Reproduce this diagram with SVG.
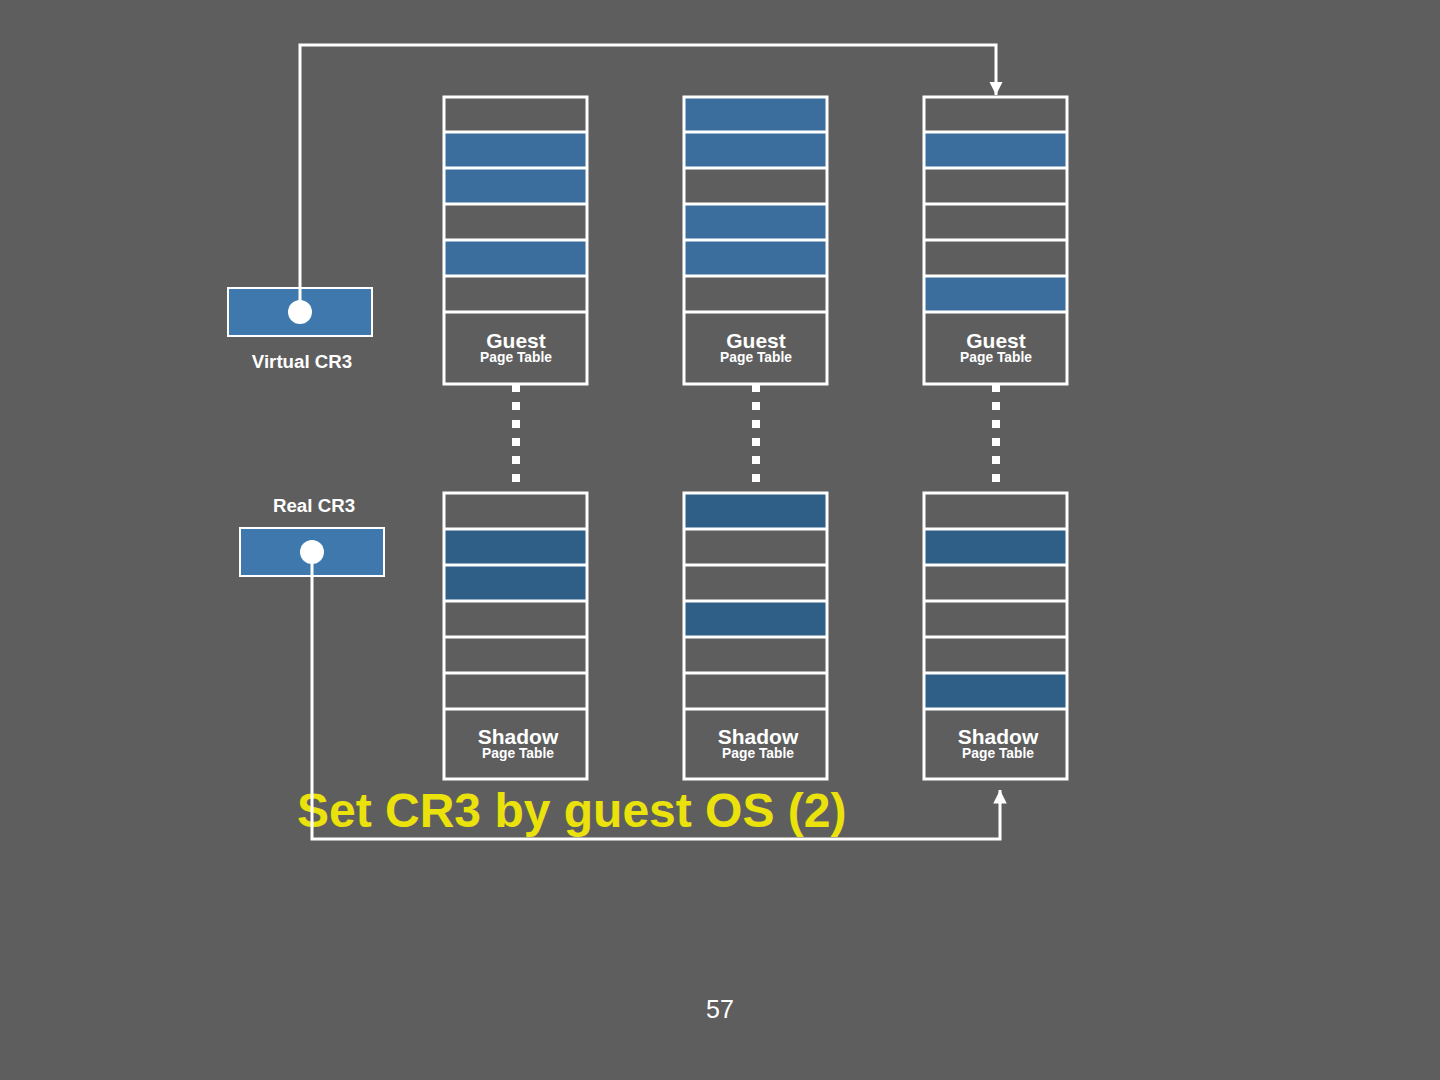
<svg xmlns="http://www.w3.org/2000/svg" width="1440" height="1080" viewBox="0 0 1440 1080">
<defs>
<style>
.bg{fill:#5e5e5e}
.frame{fill:none;stroke:#ffffff;stroke-width:3}
.sep{stroke:#ffffff;stroke-width:3}
.g{fill:#3b6e9d}
.s{fill:#2f5f86}
.cr{fill:#3e78ad;stroke:#ffffff;stroke-width:2}
.dot{fill:#ffffff}
.conn{fill:none;stroke:#ffffff;stroke-width:3}
.dash{fill:none;stroke:#ffffff;stroke-width:8;stroke-dasharray:8 10}
.t1{font-family:"Liberation Sans",Arial,sans-serif;font-weight:bold;font-size:21px;fill:#ffffff;text-anchor:middle}
.t2{font-family:"Liberation Sans",Arial,sans-serif;font-weight:bold;font-size:13.8px;fill:#ffffff;text-anchor:middle}
.lbl{font-family:"Liberation Sans",Arial,sans-serif;font-weight:bold;font-size:18.7px;fill:#ffffff;text-anchor:middle}
.title{font-family:"Liberation Sans",Arial,sans-serif;font-weight:bold;font-size:48px;fill:#ebe20c}
.pg{font-family:"Liberation Sans",Arial,sans-serif;font-size:25px;fill:#ffffff;text-anchor:middle}
</style>
<marker id="ah" viewBox="0 0 10 10" refX="10" refY="5" markerWidth="4.5" markerHeight="4.5" markerUnits="strokeWidth" orient="auto">
<path d="M0,0 L10,5 L0,10 z" fill="#ffffff"/>
</marker>
</defs>
<rect class="bg" x="0" y="0" width="1440" height="1080"/>

<g id="virtual-cr3">
<rect class="cr" x="228" y="288" width="144" height="48"/>
<text class="lbl" x="302" y="368">Virtual CR3</text>
</g>

<g id="real-cr3">
<rect class="cr" x="240" y="528" width="144" height="48"/>
<text class="lbl" x="314" y="512">Real CR3</text>
</g>

<g id="guest1">
<rect class="g" x="444" y="132" width="143" height="36"/>
<rect class="g" x="444" y="168" width="143" height="36"/>
<rect class="g" x="444" y="240" width="143" height="36"/>
<path class="sep" d="M444,132 H587 M444,168 H587 M444,204 H587 M444,240 H587 M444,276 H587 M444,312 H587"/>
<rect class="frame" x="444" y="97" width="143" height="287"/>
<text class="t1" x="516" y="348">Guest</text>
<text class="t2" x="516" y="362">Page Table</text>
</g>

<g id="guest2">
<rect class="g" x="684" y="97" width="143" height="35"/>
<rect class="g" x="684" y="132" width="143" height="36"/>
<rect class="g" x="684" y="204" width="143" height="36"/>
<rect class="g" x="684" y="240" width="143" height="36"/>
<path class="sep" d="M684,132 H827 M684,168 H827 M684,204 H827 M684,240 H827 M684,276 H827 M684,312 H827"/>
<rect class="frame" x="684" y="97" width="143" height="287"/>
<text class="t1" x="756" y="348">Guest</text>
<text class="t2" x="756" y="362">Page Table</text>
</g>

<g id="guest3">
<rect class="g" x="924" y="132" width="143" height="36"/>
<rect class="g" x="924" y="276" width="143" height="36"/>
<path class="sep" d="M924,132 H1067 M924,168 H1067 M924,204 H1067 M924,240 H1067 M924,276 H1067 M924,312 H1067"/>
<rect class="frame" x="924" y="97" width="143" height="287"/>
<text class="t1" x="996" y="348">Guest</text>
<text class="t2" x="996" y="362">Page Table</text>
</g>

<g id="shadow1">
<rect class="s" x="444" y="529" width="143" height="36"/>
<rect class="s" x="444" y="565" width="143" height="36"/>
<path class="sep" d="M444,529 H587 M444,565 H587 M444,601 H587 M444,637 H587 M444,673 H587 M444,709 H587"/>
<rect class="frame" x="444" y="493" width="143" height="286"/>
<text class="t1" x="518" y="744">Shadow</text>
<text class="t2" x="518" y="758">Page Table</text>
</g>

<g id="shadow2">
<rect class="s" x="684" y="493" width="143" height="36"/>
<rect class="s" x="684" y="601" width="143" height="36"/>
<path class="sep" d="M684,529 H827 M684,565 H827 M684,601 H827 M684,637 H827 M684,673 H827 M684,709 H827"/>
<rect class="frame" x="684" y="493" width="143" height="286"/>
<text class="t1" x="758" y="744">Shadow</text>
<text class="t2" x="758" y="758">Page Table</text>
</g>

<g id="shadow3">
<rect class="s" x="924" y="529" width="143" height="36"/>
<rect class="s" x="924" y="673" width="143" height="36"/>
<path class="sep" d="M924,529 H1067 M924,565 H1067 M924,601 H1067 M924,637 H1067 M924,673 H1067 M924,709 H1067"/>
<rect class="frame" x="924" y="493" width="143" height="286"/>
<text class="t1" x="998" y="744">Shadow</text>
<text class="t2" x="998" y="758">Page Table</text>
</g>

<g id="title">
<text class="title" x="297" y="827">Set CR3 by guest OS (2)</text>
</g>
<g id="page-number">
<text class="pg" x="720" y="1018">57</text>
</g>

<g id="connectors">
<path class="conn" d="M300,312 V45 H996 V95" marker-end="url(#ah)"/>
<path class="conn" d="M312,552 V839 H1000 V790" marker-end="url(#ah)"/>
<line class="dash" x1="516" y1="384" x2="516" y2="484"/>
<line class="dash" x1="756" y1="384" x2="756" y2="484"/>
<line class="dash" x1="996" y1="384" x2="996" y2="484"/>
<circle class="dot" cx="300" cy="312" r="12"/>
<circle class="dot" cx="312" cy="552" r="12"/>
</g>
</svg>
